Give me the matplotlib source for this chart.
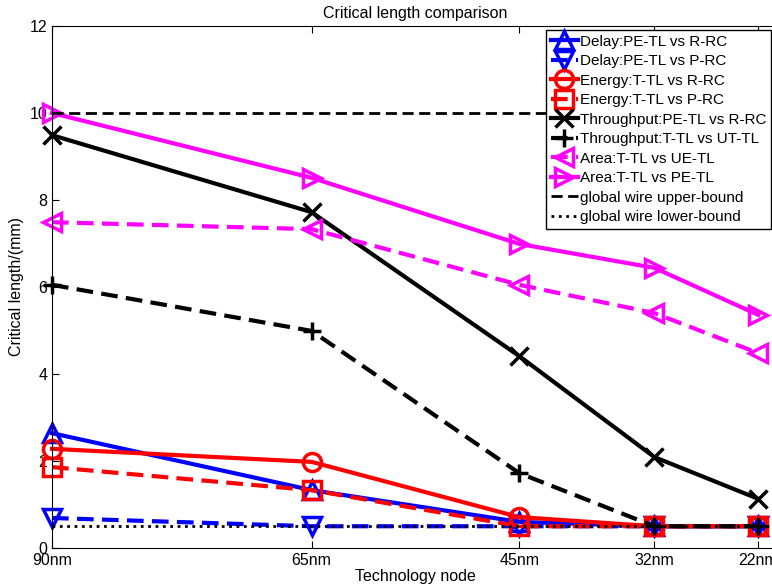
import matplotlib
matplotlib.use("Agg")
import matplotlib.pyplot as plt

plt.rcParams['font.family'] = ['Liberation Sans', 'DejaVu Sans']
plt.rcParams['font.size'] = 11.5

nodes = [90, 65, 45, 32, 22]
node_labels = ['90nm', '65nm', '45nm', '32nm', '22nm']

delay_rrc = [2.64, 1.33, 0.6, 0.5, 0.5]
delay_prc = [0.69, 0.5, 0.5, 0.5, 0.5]
energy_rrc = [2.28, 1.98, 0.71, 0.5, 0.5]
energy_prc = [1.86, 1.33, 0.5, 0.5, 0.5]
thr_rrc = [9.49, 7.72, 4.41, 2.09, 1.13]
thr_uttl = [6.05, 4.99, 1.72, 0.5, 0.5]
area_uetl = [7.49, 7.33, 6.05, 5.40, 4.48]
area_petl = [10.0, 8.51, 6.99, 6.44, 5.36]
upper_bound = 10
lower_bound = 0.5

blue, red, black, mag = '#0000ff', '#ff0000', '#000000', '#ff00ff'
series = [
    (delay_rrc, blue, '-', '^', 'Delay:PE-TL vs R-RC'),
    (delay_prc, blue, '--', 'v', 'Delay:PE-TL vs P-RC'),
    (energy_rrc, red, '-', 'o', 'Energy:T-TL vs R-RC'),
    (energy_prc, red, '--', 's', 'Energy:T-TL vs P-RC'),
    (thr_rrc, black, '-', 'x', 'Throughput:PE-TL vs R-RC'),
    (thr_uttl, black, '--', '+', 'Throughput:T-TL vs UT-TL'),
    (area_uetl, mag, '--', '<', 'Area:T-TL vs UE-TL'),
    (area_petl, mag, '-', '>', 'Area:T-TL vs PE-TL'),
]

fig = plt.figure(figsize=(7.72, 5.88), dpi=100)
ax = fig.add_axes([52 / 772, 40 / 588, 727 / 772, 522 / 588])

for vals, c, ls, mk, lab in series:
    kw = dict(dashes=(4, 2)) if ls == '--' else {}
    ax.plot(nodes, vals, color=c, linestyle=ls, marker=mk, lw=3,
            ms=13, mew=2.5, mfc='none', mec=c, label=lab, clip_on=False, **kw)
ax.axhline(upper_bound, color='k', ls='--', lw=2, dashes=(4, 2),
           label='global wire upper-bound')
ax.axhline(lower_bound, color='k', ls=':', lw=2, label='global wire lower-bound')

ax.set_xlim(90, 20)
ax.set_ylim(0, 12)
ax.set_xticks(nodes)
ax.set_xticklabels(node_labels)
ax.set_yticks(range(0, 13, 2))
ax.tick_params(direction='in', top=True, right=True, length=5)
ax.set_title('Critical length comparison', fontsize=11.5, pad=6)
ax.set_xlabel('Technology node', labelpad=1)
ax.set_ylabel('Critical length/(mm)')

leg = ax.legend(loc='upper left', bbox_to_anchor=(546 / 772, 1 - 30 / 588),
                bbox_transform=fig.transFigure, fancybox=False, framealpha=1,
                edgecolor='k', handlelength=1.8, borderaxespad=0, fontsize=11,
                labelspacing=0.36, handletextpad=0.1, borderpad=0.3)
leg.get_frame().set_linewidth(1)

fig.savefig('out.png', dpi=100)
